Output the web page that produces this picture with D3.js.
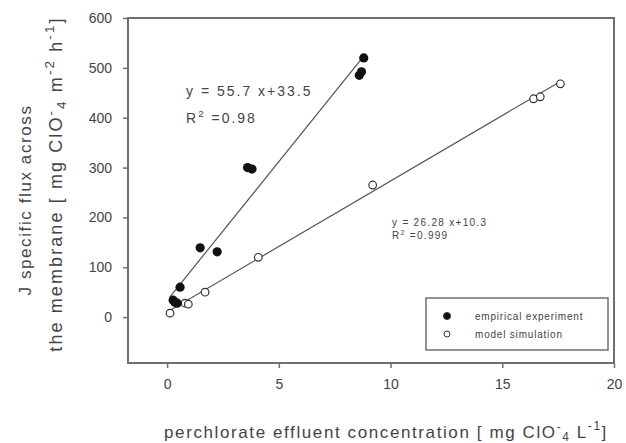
<!DOCTYPE html>
<html>
<head>
<meta charset="utf-8">
<script src="https://cdn.jsdelivr.net/npm/d3@7"></script>
<style>
  body { margin: 0; background: #fff; }
  svg { font-family: "Liberation Sans", Arial, sans-serif; }
</style>
</head>
<body>
<div id="chart"></div>
<script>
// 数据
const empiricalX = [0.27, 0.45, 0.35, 0.58, 1.48, 2.24, 3.6, 3.8, 8.6, 8.7, 8.8];
const empiricalY = [34, 28, 30, 60, 139, 131, 300, 297, 485, 492, 520];
const modelX = [0.13, 0.8, 0.95, 1.7, 4.08, 9.2, 16.4, 16.7, 17.6];
const modelY = [8, 28, 26, 50, 120, 265, 438, 442, 468];
const fits = [
  { slope: 55.7, intercept: 33.5, from: 0.1, to: 8.8 },
  { slope: 26.28, intercept: 10.3, from: 0.1, to: 17.6 }
];
const xTicks = [0, 5, 10, 15, 20];
const yTicks = [0, 100, 200, 300, 400, 500, 600];
const legendLabels = ["empirical experiment", "model simulation"];

const width = 626, height = 443;
const margin = { left: 128, right: 12, top: 18, bottom: 80 };
const axisColor = "#6f6f6f";
const textColor = "#444";

const svg = d3.select("#chart").append("svg")
  .attr("width", width).attr("height", height);

const x = d3.scaleLinear().domain([-1.75, 20]).range([margin.left, width - margin.right]);
const y = d3.scaleLinear().domain([-92, 600]).range([height - margin.bottom, margin.top]);

// 边框
svg.append("rect")
  .attr("x", x.range()[0]).attr("y", y.range()[1])
  .attr("width", x.range()[1] - x.range()[0])
  .attr("height", y.range()[0] - y.range()[1])
  .attr("fill", "none").attr("stroke", axisColor).attr("stroke-width", 2);

// 坐标轴
const xAxis = svg.append("g")
  .attr("transform", `translate(0,${y.range()[0]})`)
  .call(d3.axisBottom(x).tickValues(xTicks).tickSize(5).tickPadding(11).tickFormat(d3.format("d")));
const yAxis = svg.append("g")
  .attr("transform", `translate(${x.range()[0]},0)`)
  .call(d3.axisLeft(y).tickValues(yTicks).tickSize(5).tickPadding(11).tickFormat(d3.format("d")));
[xAxis, yAxis].forEach((g) => {
  g.select(".domain").remove();
  g.selectAll(".tick line").attr("stroke", axisColor).attr("stroke-width", 1.5);
  g.selectAll(".tick text").attr("fill", textColor).style("font-size", "14px");
});

// 拟合线
fits.forEach((f) => {
  svg.append("line")
    .attr("x1", x(f.from)).attr("y1", y(f.slope * f.from + f.intercept))
    .attr("x2", x(f.to)).attr("y2", y(f.slope * f.to + f.intercept))
    .attr("stroke", "#555").attr("stroke-width", 1.2);
});

// 散点
svg.selectAll(".model").data(modelX).enter().append("circle")
  .attr("cx", (d) => x(d)).attr("cy", (d, i) => y(modelY[i]))
  .attr("r", 3.8).attr("fill", "#fff").attr("stroke", "#333").attr("stroke-width", 1.2);
svg.selectAll(".emp").data(empiricalX).enter().append("circle")
  .attr("cx", (d) => x(d)).attr("cy", (d, i) => y(empiricalY[i]))
  .attr("r", 4.6).attr("fill", "#111");

// 带上下标的文字: parts = [文字, 基线偏移(相对字号), 小字比例]
function rich(t, parts, size) {
  let cur = 0;
  parts.forEach(([txt, level, small]) => {
    const ts = t.append("tspan").attr("dy", (level - cur) * size).text(txt);
    if (small) ts.style("font-size", size * small + "px");
    cur = level;
  });
}

// 方程文字
function eq(xp, yp, slope, intercept, r2, size, gap, spacing) {
  svg.append("text").attr("x", xp).attr("y", yp)
    .attr("fill", textColor).style("font-size", size + "px").style("letter-spacing", spacing + "px")
    .text(`y = ${slope} x+${intercept}`);
  const t2 = svg.append("text").attr("x", xp).attr("y", yp + gap)
    .attr("fill", textColor).style("font-size", size + "px").style("letter-spacing", spacing + "px");
  rich(t2, [["R", 0], ["2", -0.4, 0.7], [" =" + r2, 0]], size);
}
eq(186, 96, 55.7, 33.5, "0.98", 14, 27, 2);
eq(392, 226, 26.28, 10.3, "0.999", 10, 13, 1.3);

// 图例
const lg = svg.append("g").attr("transform", "translate(426,298)");
lg.append("rect").attr("width", 182).attr("height", 52)
  .attr("fill", "#fff").attr("stroke", axisColor).attr("stroke-width", 1.5);
legendLabels.forEach((lab, i) => {
  const cy = 18 + i * 18;
  lg.append("circle").attr("cx", 21).attr("cy", cy).attr("r", i === 0 ? 3.5 : 3)
    .attr("fill", i === 0 ? "#111" : "#fff").attr("stroke", "#333").attr("stroke-width", 1);
  lg.append("text").attr("x", 49).attr("y", cy + 3.5)
    .attr("fill", textColor).style("font-size", "10px").style("letter-spacing", "0.8px").text(lab);
});

// 坐标轴标题
const fs = 17, ls = "1.6px";
const xt = svg.append("text").attr("x", 386).attr("y", 438).attr("text-anchor", "middle")
  .attr("fill", textColor).style("font-size", fs + "px").style("letter-spacing", ls);
rich(xt, [
  ["perchlorate effluent concentration [ mg ClO", 0], ["-", -0.4, 0.7], ["4", 0.2, 0.7],
  [" L", 0], ["-1", -0.45, 0.7], ["]", 0]
], fs);

svg.append("text").attr("transform", `translate(31,200) rotate(-90)`)
  .attr("text-anchor", "middle").attr("fill", textColor)
  .style("font-size", fs + "px").style("letter-spacing", ls)
  .text("J specific flux across");
const fs2 = 18;
const yt = svg.append("text").attr("transform", `translate(62,184) rotate(-90)`)
  .attr("text-anchor", "middle").attr("fill", textColor)
  .style("font-size", fs2 + "px").style("letter-spacing", "2.1px");
rich(yt, [
  ["the membrane [ mg ClO", 0], ["-", -0.4, 0.75], ["4", 0.2, 0.75],
  [" m", 0], ["-2", -0.45, 0.75], [" h", 0], ["-1", -0.45, 0.75], ["]", 0]
], fs2);
</script>
</body>
</html>
